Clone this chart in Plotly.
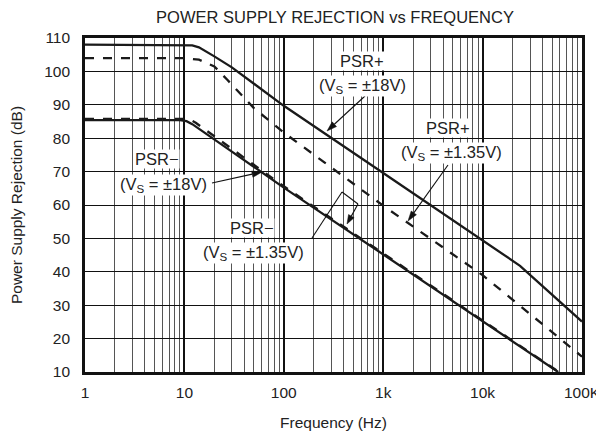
import math
import plotly.graph_objects as go

# ---- data ----
freq_psrp_18 = [1, 10, 12, 14, 17, 20, 30, 100, 1000, 10000, 23800, 100000]
psrp_18 = [108, 108, 107.8, 107.2, 105.8, 104.5, 101.2, 89.7, 69.6, 49.5, 41.8, 25.1]

freq_psrp_135 = [1, 10, 14, 20, 27, 50, 100, 1000, 10000, 43000, 100000]
psrp_135 = [104, 104, 103.5, 101.5, 97.5, 89, 81.7, 59.8, 39, 23.5, 14.6]

freq_psrn_18 = [1, 9, 10.5, 12, 100, 1000, 10000, 57600]
psrn_18 = [85.4, 85.4, 85.1, 84.2, 65.2, 45.2, 25.2, 10]

freq_psrn_135 = [1, 10, 11.5, 13, 100, 1000, 10000, 58500]
psrn_135 = [85.8, 85.8, 85.5, 84.6, 65.6, 45.6, 25.5, 10]

x_tickvals = [1, 10, 100, 1000, 10000, 100000]
x_ticktext = ["1", "10", "100", "1k", "10k", "100K"]
y_tickvals = list(range(10, 111, 10))

FONT = "Liberation Sans, Arial, sans-serif"
INK = "#1a1a1a"

fig = go.Figure()
fig.add_trace(go.Scatter(x=freq_psrp_18, y=psrp_18, mode="lines",
                         line=dict(color=INK, width=2.3), name="PSR+ 18V"))
fig.add_trace(go.Scatter(x=freq_psrp_135, y=psrp_135, mode="lines",
                         line=dict(color=INK, width=2.3, dash="dash"), name="PSR+ 1.35V"))
fig.add_trace(go.Scatter(x=freq_psrn_135, y=psrn_135, mode="lines",
                         line=dict(color=INK, width=2.3, dash="dash"), name="PSR- 1.35V"))
fig.add_trace(go.Scatter(x=freq_psrn_18, y=psrn_18, mode="lines",
                         line=dict(color=INK, width=2.3), name="PSR- 18V"))

# The page body adds an ~8px offset; figure is sized to fill the rest of the window.
OFF = 8
W, H = 604 - OFF, 442 - OFF
# plot-area in window pixels
L, R, T, B = 85, 582, 38, 372

def px(xp):
    return (xp - L) / (R - L)
def py(yp):
    return (B - yp) / (B - T)

anns = []
shapes = []

def label(x, y, text):
    anns.append(dict(x=px(x), y=py(y), xref="paper", yref="paper", text=text,
                     showarrow=False, bgcolor="white", borderpad=0,
                     font=dict(size=16.5, color="#222", family=FONT),
                     xanchor="center", yanchor="middle"))

def seg(a, b):
    shapes.append(dict(type="line", xref="paper", yref="paper",
                       x0=px(a[0]), y0=py(a[1]), x1=px(b[0]), y1=py(b[1]),
                       line=dict(color="#111", width=1.1)))

def arrow(tail, tip, head_len=10, head_half=3.2):
    dx, dy = tip[0] - tail[0], tip[1] - tail[1]
    d = math.hypot(dx, dy)
    ux, uy = dx / d, dy / d
    bx, by = tip[0] - ux * head_len, tip[1] - uy * head_len
    nx, ny = -uy, ux
    seg(tail, (bx, by))
    p1 = (bx + nx * head_half, by + ny * head_half)
    p2 = (bx - nx * head_half, by - ny * head_half)
    path = "M {},{} L {},{} L {},{} Z".format(px(tip[0]), py(tip[1]), px(p1[0]), py(p1[1]),
                                             px(p2[0]), py(p2[1]))
    shapes.append(dict(type="path", xref="paper", yref="paper", path=path,
                       fillcolor="#111", line=dict(color="#111", width=0.5)))

label(362, 61, "PSR+")
label(362, 86, "(V<sub>S</sub> = ±18V)")
arrow((365, 96), (327, 131))

label(448, 128, "PSR+")
label(451, 153, "(V<sub>S</sub> = ±1.35V)")
arrow((448, 165), (408, 221))

label(157, 159, "PSR−")
label(163, 185, "(V<sub>S</sub> = ±18V)")
arrow((212, 183), (262, 172))

label(252, 228, "PSR−")
label(253, 253, "(V<sub>S</sub> = ±1.35V)")
seg((312, 238), (342, 192))
seg((342, 192), (358, 204))
arrow((358, 204), (347, 224), head_len=9)

fig.update_layout(
    width=W, height=H,
    margin=dict(l=L - OFF, r=604 - R, t=T - OFF, b=442 - B),
    paper_bgcolor="white", plot_bgcolor="white",
    showlegend=False,
    font=dict(family=FONT, size=15.5, color="#222"),
    title=dict(text="POWER SUPPLY REJECTION vs FREQUENCY", x=(335 - OFF) / W, xanchor="center",
               y=1 - (17 - OFF) / H, yanchor="middle", font=dict(size=16.5, color="#222", family=FONT)),
    annotations=anns, shapes=shapes,
)
fig.update_xaxes(type="log", range=[0, 5], tickvals=x_tickvals, ticktext=x_ticktext,
                 showgrid=True, gridcolor="#111", gridwidth=1.6,
                 minor=dict(dtick="D1", showgrid=True, gridcolor="#555", gridwidth=1, ticks=""),
                 showline=True, linecolor="#111", linewidth=2.6, mirror=True,
                 ticks="", ticklabelstandoff=5, automargin=False,
                 tickfont=dict(size=15.5, color="#222"),
                 title=dict(text="Frequency (Hz)", font=dict(size=15.5, color="#222"), standoff=17),
                 zeroline=False)
fig.update_yaxes(range=[10, 110], tickvals=y_tickvals,
                 showgrid=True, gridcolor="#111", gridwidth=1,
                 showline=True, linecolor="#111", linewidth=2.6, mirror=True,
                 ticks="", ticklabelstandoff=9, automargin=False,
                 tickfont=dict(size=15.5, color="#222"),
                 title=dict(text="Power Supply Rejection (dB)", font=dict(size=15.5, color="#222"), standoff=22),
                 zeroline=False)

fig.write_html("out.html")
